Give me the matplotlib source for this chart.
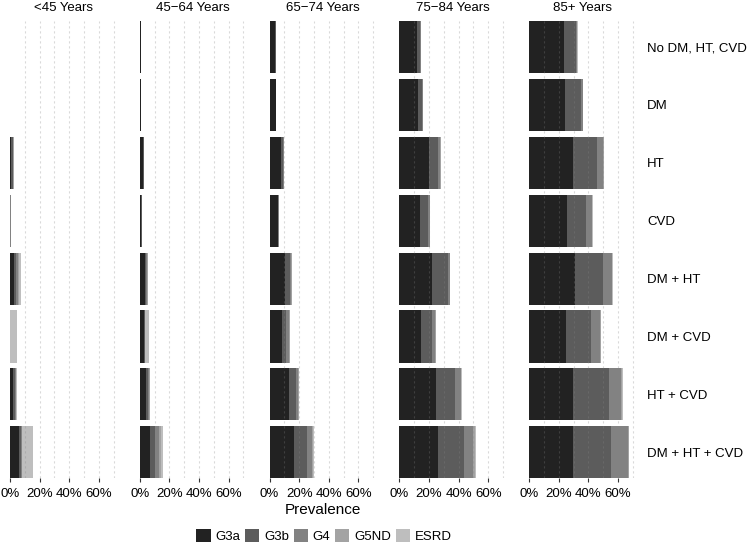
import matplotlib
matplotlib.use('Agg')
import matplotlib.pyplot as plt
from matplotlib.patches import Patch
from matplotlib.ticker import FuncFormatter

plt.rcParams['font.family'] = ['Liberation Sans', 'DejaVu Sans']

# Data (prevalence in %, stacked segments per CKD stage)
age_groups = ['<45 Years', '45\u221264 Years', '65\u221274 Years', '75\u221284 Years', '85+ Years']
conditions = ['No DM, HT, CVD', 'DM', 'HT', 'CVD', 'DM + HT', 'DM + CVD', 'HT + CVD', 'DM + HT + CVD']
stages = ['G3a', 'G3b', 'G4', 'G5ND', 'ESRD']

# one row per age group, one value per condition
g3a = [[0.1, 0.1, 1.0, 0.2, 2.5, 0.0, 2.3, 6.3],
       [0.5, 0.6, 2.3, 1.0, 3.2, 2.7, 4.5, 6.8],
       [3.9, 4.3, 7.7, 5.5, 10.2, 8.2, 13.0, 16.4],
       [11.8, 12.5, 20.0, 14.1, 21.8, 14.5, 25.0, 26.4],
       [23.5, 24.2, 29.8, 25.7, 30.9, 24.8, 29.8, 29.3]]
g3b = [[0.1, 0.0, 0.8, 0.1, 1.5, 0.0, 1.0, 0.9],
       [0.2, 0.2, 0.3, 0.2, 1.3, 0.5, 1.1, 3.4],
       [0.2, 0.2, 1.4, 0.5, 3.4, 3.2, 4.7, 9.1],
       [2.3, 2.5, 6.4, 5.2, 10.9, 7.3, 12.5, 17.2],
       [8.1, 11.0, 16.2, 12.7, 19.2, 16.7, 24.2, 26.0]]
g4 = [[0.0, 0.0, 0.5, 0.1, 1.3, 0.0, 0.7, 0.7],
      [0.0, 0.1, 0.1, 0.1, 0.6, 0.2, 0.8, 2.9],
      [0.0, 0.0, 0.5, 0.1, 0.9, 1.8, 1.6, 2.9],
      [0.5, 0.7, 1.3, 1.2, 1.4, 2.3, 3.9, 6.4],
      [0.9, 0.9, 4.1, 3.8, 5.7, 6.4, 8.3, 11.1]]
g5nd = [[0.0, 0.0, 0.2, 0.0, 1.0, 0.0, 0.3, 0.4],
        [0.0, 0.0, 0.0, 0.0, 0.3, 0.2, 0.4, 1.4],
        [0.0, 0.0, 0.2, 0.0, 0.3, 0.4, 0.4, 1.1],
        [0.1, 0.1, 0.3, 0.2, 0.2, 0.4, 0.4, 0.9],
        [0.1, 0.3, 0.3, 0.4, 0.4, 0.5, 0.5, 0.8]]
esrd = [[0.1, 0.2, 0.2, 0.1, 0.8, 4.7, 0.2, 7.5],
        [0.0, 0.0, 0.0, 0.0, 0.2, 2.4, 0.2, 1.3],
        [0.0, 0.0, 0.0, 0.0, 0.2, 0.3, 0.3, 0.7],
        [0.1, 0.1, 0.2, 0.2, 0.2, 0.3, 0.2, 0.5],
        [0.1, 0.2, 0.2, 0.3, 0.2, 0.4, 0.4, 0.5]]

colors = ['#222222', '#5c5c5c', '#828282', '#a3a3a3', '#bebebe']
series = [g3a, g3b, g4, g5nd, esrd]

W, H = 747, 545
fig = plt.figure(figsize=(W / 100, H / 100), dpi=100)

left0, step, pw = 10, 129.8, 106.6
top, bottom = 21, 478.3
y = list(range(len(conditions)))

for i, age in enumerate(age_groups):
    ax = fig.add_axes([(left0 + i * step) / W, 1 - bottom / H, pw / W, (bottom - top) / H])
    base = [0.0] * len(conditions)
    for s, col in zip(series, colors):
        vals = s[i]
        ax.barh(y, vals, left=base, height=0.9, color=col, edgecolor='none', zorder=2)
        base = [b + v for b, v in zip(base, vals)]
    # faint dotted grid, drawn over the bars like the original
    for gx in range(10, 80, 10):
        ax.axvline(gx, color='#848484', lw=0.8, ls=(0, (2, 2.5)), zorder=3, alpha=0.3)
    ax.set_xlim(0, 72)
    ax.set_ylim(len(conditions) - 0.55, -0.45)
    ax.set_xticks([0, 20, 40, 60])
    ax.xaxis.set_major_formatter(FuncFormatter(lambda v, p: f'{v:.0f}%'))
    ax.tick_params(axis='x', length=3, width=0.8, color='#333333', labelsize=9.5, pad=4)
    for sp in ax.spines.values():
        sp.set_visible(False)
    ax.set_title(age, fontsize=9.5, pad=7)
    if i == len(age_groups) - 1:
        ax.yaxis.tick_right()
        ax.set_yticks(y)
        ax.set_yticklabels(conditions, fontsize=9.5)
        ax.tick_params(axis='y', length=0, pad=8)
    else:
        ax.set_yticks([])

mid = left0 + 2 * step + pw / 2
fig.text(mid / W, 1 - 510 / H, 'Prevalence', ha='center', va='center', fontsize=11)

handles = [Patch(facecolor=c, edgecolor='none') for c in colors]
fig.legend(handles, stages, loc='center', bbox_to_anchor=(324 / W, 1 - 536 / H), ncol=5,
           frameon=False, fontsize=9.5, handlelength=1.1, handleheight=1.1,
           handletextpad=0.35, columnspacing=0.35, borderpad=0)

fig.savefig('out.png', dpi=100)
